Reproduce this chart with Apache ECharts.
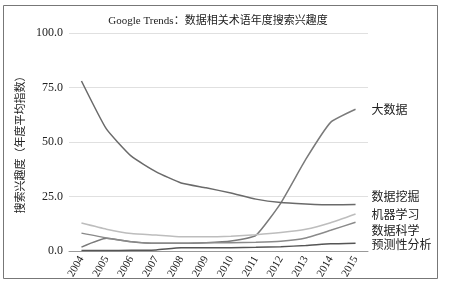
<!DOCTYPE html>
<html><head><meta charset="utf-8">
<script src="https://cdn.jsdelivr.net/npm/echarts@6/dist/echarts.min.js"></script>
<style>html,body{margin:0;padding:0;background:#fff}#c{width:455px;height:289px}</style>
</head><body><div id="c"></div>
<script>
const years = ['2004','2005','2006','2007','2008','2009','2010','2011','2012','2013','2014','2015'];
const bigData = [1.8, 5.8, 4.2, 3.5, 3.5, 3.8, 4.6, 7.2, 22, 42, 59, 65];
const dataMining = [78, 56, 43.5, 36.3, 31.2, 29, 26.6, 23.8, 22.2, 21.6, 21.2, 21.3];
const machineLearning = [12.8, 10, 8, 7.3, 6.5, 6.5, 6.8, 7.5, 8.5, 10, 13, 17];
const dataScience = [8.2, 6, 4.3, 3.5, 3.5, 3.8, 3.8, 4, 4.5, 6, 9.5, 13.2];
const predictive = [0.2, 0.2, 0.3, 0.5, 1.5, 1.5, 1.5, 1.7, 2, 2.5, 3.3, 3.6];
const yTicks = [0, 25, 50, 75, 100];

const serif = '"Liberation Serif", "Noto Sans CJK SC", serif';
function mk(name, data, color, off) {
  return {
    name, type: 'line', data, symbol: 'none', smooth: 0.15,
    lineStyle: { color, width: 1.5 },
    endLabel: { show: true, formatter: name, color: '#222', fontSize: 12,
      fontFamily: '"Noto Sans CJK SC", sans-serif', offset: off, distance: 5 }
  };
}
const chart = echarts.init(document.getElementById('c'));
chart.setOption({
  animation: false,
  backgroundColor: '#fff',
  title: { text: 'Google Trends：数据相关术语年度搜索兴趣度', left: 213, top: 11, textAlign: 'center',
    textStyle: { fontSize: 11, fontWeight: 'normal', color: '#222', fontFamily: serif } },
  graphic: [{ type: 'rect', shape: { x: 3.5, y: 5.5, width: 434, height: 273 },
    style: { fill: 'none', stroke: '#777', lineWidth: 1 }, silent: true }],
  grid: { left: 69, right: 87, top: 33, bottom: 38 },
  xAxis: { type: 'category', data: years, boundaryGap: true,
    axisLine: { lineStyle: { color: '#999' } }, axisTick: { show: false },
    axisLabel: { rotate: 60, fontSize: 11, color: '#222', fontFamily: serif, margin: 6 } },
  yAxis: { type: 'value', min: 0, max: 100, interval: 25,
    name: '搜索兴趣度（年度平均指数）', nameLocation: 'middle', nameGap: 41,
    nameTextStyle: { fontSize: 11, color: '#222', fontFamily: '"Noto Sans CJK SC", sans-serif' },
    axisLine: { show: false }, axisTick: { show: false },
    axisLabel: { fontSize: 12, color: '#222', fontFamily: serif, margin: 6,
      formatter: v => yTicks.includes(v) ? v.toFixed(1) : '' },
    splitLine: { lineStyle: { color: '#e0e0e0' } } },
  series: [
    mk('大数据', bigData, '#7a7a7a', [11, 0]),
    mk('数据挖掘', dataMining, '#6a6a6a', [11, -8]),
    mk('机器学习', machineLearning, '#bdbdbd', [11, 0]),
    mk('数据科学', dataScience, '#8a8a8a', [11, 8]),
    mk('预测性分析', predictive, '#555555', [11, 1])
  ]
});
</script></body></html>
